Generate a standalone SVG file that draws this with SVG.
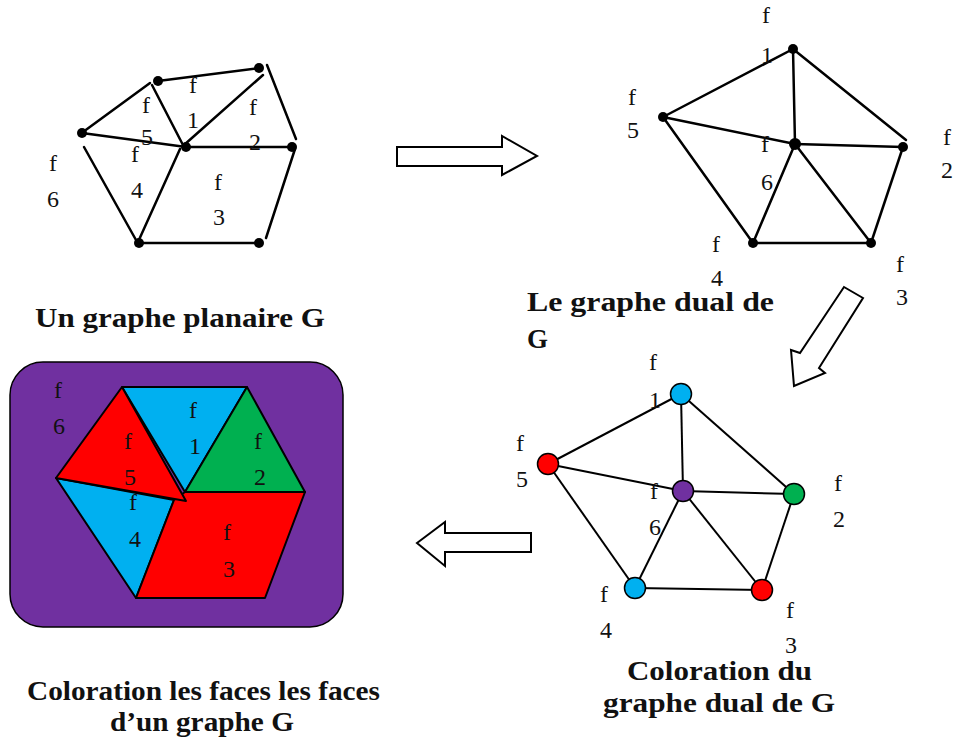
<svg xmlns="http://www.w3.org/2000/svg" width="955" height="745" viewBox="0 0 955 745">
<style>
.e{stroke:#000;stroke-width:2.5;fill:none;stroke-linecap:round}
.e2{stroke:#000;stroke-width:2;fill:none}
.lb{font-family:"Liberation Serif","Times New Roman",serif;font-size:24px;fill:#111;text-anchor:middle}
.tt{font-family:"Liberation Serif","Times New Roman",serif;font-size:27px;font-weight:bold;fill:#111}
.arr{fill:#fff;stroke:#000;stroke-width:2;stroke-linejoin:miter}
.fc{stroke:#000;stroke-width:2;stroke-linejoin:round}
.nd{stroke:#000;stroke-width:1.5}
</style>
<rect width="955" height="745" fill="#fff"/>

<!-- Top-left planar graph -->
<g id="graph-G">
<g id="G-edges">
<line class="e" x1="83" y1="132" x2="150" y2="83"/>
<line class="e" x1="158" y1="81" x2="259" y2="68"/>
<line class="e" x1="152" y1="85" x2="184" y2="147"/>
<line class="e" x1="263" y1="75" x2="184" y2="145"/>
<line class="e" x1="82" y1="133" x2="186" y2="147"/>
<line class="e" x1="186" y1="147" x2="292" y2="147"/>
<line class="e" x1="267" y1="65" x2="296" y2="139"/>
<line class="e" x1="295" y1="149" x2="266" y2="238"/>
<line class="e" x1="84" y1="147" x2="136" y2="240"/>
<line class="e" x1="180" y1="149" x2="138" y2="242"/>
<line class="e" x1="139" y1="243" x2="259" y2="243"/>
</g>
<g id="G-vertices" fill="#000">
<circle cx="82" cy="133" r="5"/><circle cx="158" cy="81" r="5"/><circle cx="259" cy="68" r="5"/>
<circle cx="186" cy="147" r="5"/><circle cx="292" cy="147" r="5"/><circle cx="139" cy="243" r="5"/><circle cx="259" cy="243" r="5"/>
</g>
<g id="G-labels">
<text class="lb" x="53" y="171">f</text><text class="lb" x="53" y="207">6</text>
<text class="lb" x="146" y="113">f</text><text class="lb" x="147" y="145">5</text>
<text class="lb" x="193" y="93">f</text><text class="lb" x="193" y="128">1</text>
<text class="lb" x="253" y="115">f</text><text class="lb" x="255" y="150">2</text>
<text class="lb" x="135" y="162">f</text><text class="lb" x="137" y="198">4</text>
<text class="lb" x="218" y="190">f</text><text class="lb" x="219" y="225">3</text>
</g>
<text class="tt" x="35" y="327" textLength="290" lengthAdjust="spacingAndGlyphs">Un graphe planaire G</text>
</g>

<!-- Top-right dual graph -->
<g id="graph-dual">
<g id="dual-edges">
<line class="e" x1="793" y1="49" x2="663" y2="117"/>
<line class="e" x1="793" y1="49" x2="795" y2="144"/>
<line class="e" x1="793" y1="49" x2="906" y2="140"/>
<line class="e" x1="663" y1="117" x2="795" y2="144"/>
<line class="e" x1="663" y1="117" x2="753" y2="243"/>
<line class="e" x1="795" y1="144" x2="903" y2="147"/>
<line class="e" x1="795" y1="144" x2="753" y2="243"/>
<line class="e" x1="795" y1="144" x2="871" y2="243"/>
<line class="e" x1="903" y1="147" x2="871" y2="243"/>
<line class="e" x1="753" y1="243" x2="871" y2="243"/>
</g>
<g id="dual-vertices" fill="#000">
<circle cx="793" cy="49" r="5"/><circle cx="663" cy="117" r="5"/><circle cx="795" cy="144" r="6"/>
<circle cx="903" cy="147" r="5"/><circle cx="753" cy="243" r="5"/><circle cx="871" cy="243" r="5"/>
</g>
<g id="dual-labels">
<text class="lb" x="766" y="23">f</text><text class="lb" x="767" y="63">1</text>
<text class="lb" x="632" y="105">f</text><text class="lb" x="633" y="138">5</text>
<text class="lb" x="765" y="152">f</text><text class="lb" x="767" y="190">6</text>
<text class="lb" x="947" y="145">f</text><text class="lb" x="947" y="178">2</text>
<text class="lb" x="716" y="252">f</text><text class="lb" x="717" y="286">4</text>
<text class="lb" x="900" y="272">f</text><text class="lb" x="902" y="305">3</text>
</g>
<text class="tt" x="527" y="311" textLength="247" lengthAdjust="spacingAndGlyphs">Le graphe dual de</text>
<text class="tt" x="527" y="348">G</text>
</g>

<!-- Bottom-right coloured dual -->
<g id="graph-dual-colored">
<g id="cdual-edges">
<line class="e2" x1="681" y1="394" x2="548" y2="464"/>
<line class="e2" x1="681" y1="394" x2="683" y2="491"/>
<line class="e2" x1="681" y1="394" x2="794" y2="494"/>
<line class="e2" x1="548" y1="464" x2="683" y2="491"/>
<line class="e2" x1="548" y1="464" x2="635" y2="588"/>
<line class="e2" x1="683" y1="491" x2="794" y2="494"/>
<line class="e2" x1="683" y1="491" x2="635" y2="588"/>
<line class="e2" x1="683" y1="491" x2="762" y2="590"/>
<line class="e2" x1="794" y1="494" x2="762" y2="590"/>
<line class="e2" x1="635" y1="588" x2="762" y2="590"/>
</g>
<g id="cdual-nodes">
<circle class="nd" cx="681" cy="394" r="10.5" fill="#00B0F0"/>
<circle class="nd" cx="548" cy="464" r="10.5" fill="#FF0000"/>
<circle class="nd" cx="683" cy="491" r="10.5" fill="#7030A0"/>
<circle class="nd" cx="794" cy="494" r="10.5" fill="#00B050"/>
<circle class="nd" cx="635" cy="588" r="10.5" fill="#00B0F0"/>
<circle class="nd" cx="762" cy="590" r="10.5" fill="#FF0000"/>
</g>
<g id="cdual-labels">
<text class="lb" x="653" y="370">f</text><text class="lb" x="655" y="408">1</text>
<text class="lb" x="520" y="451">f</text><text class="lb" x="522" y="487">5</text>
<text class="lb" x="654" y="499">f</text><text class="lb" x="655" y="535">6</text>
<text class="lb" x="838" y="491">f</text><text class="lb" x="839" y="527">2</text>
<text class="lb" x="604" y="602">f</text><text class="lb" x="606" y="638">4</text>
<text class="lb" x="790" y="618">f</text><text class="lb" x="791" y="653">3</text>
</g>
<text class="tt" x="627" y="680" textLength="185" lengthAdjust="spacingAndGlyphs">Coloration du</text>
<text class="tt" x="603" y="712" textLength="232" lengthAdjust="spacingAndGlyphs">graphe dual de G</text>
</g>

<!-- Bottom-left coloured faces -->
<g id="faces-colored">
<rect x="10" y="362" width="333" height="265" rx="33" ry="33" fill="#7030A0" stroke="#000" stroke-width="1.5"/>
<polygon class="fc" fill="#00B0F0" points="56,478 174,500 136,598"/>
<polygon class="fc" fill="#FF0000" points="174,500 185,492 305,492 265,598 136,598"/>
<polygon class="fc" fill="#00B0F0" points="122,387 247,387 185,492"/>
<polygon class="fc" fill="#00B050" points="247,387 305,492 185,492"/>
<polygon class="fc" fill="#FF0000" points="122,387 186,501 56,478"/>
<g id="faces-labels">
<text class="lb" x="58" y="398">f</text><text class="lb" x="59" y="434">6</text>
<text class="lb" x="193" y="418">f</text><text class="lb" x="195" y="454">1</text>
<text class="lb" x="128" y="449">f</text><text class="lb" x="130" y="485">5</text>
<text class="lb" x="258" y="449">f</text><text class="lb" x="260" y="485">2</text>
<text class="lb" x="133" y="510">f</text><text class="lb" x="135" y="547">4</text>
<text class="lb" x="227" y="540">f</text><text class="lb" x="229" y="577">3</text>
</g>
<text class="tt" x="27" y="700" textLength="353" lengthAdjust="spacingAndGlyphs">Coloration les faces les faces</text>
<text class="tt" x="110" y="731" textLength="184" lengthAdjust="spacingAndGlyphs">d’un graphe G</text>
</g>

<!-- Block arrows -->
<g id="connectors">
<polygon class="arr" points="397,147 502,147 502,136 537,156 502,175 502,166 397,166"/>
<polygon class="arr" points="844,287 863,298 819,368 825,373 794,386 791,350 800,353"/>
<polygon class="arr" points="531,533 445,533 445,522 417,543 445,566 445,552 531,552"/>
</g>
</svg>
